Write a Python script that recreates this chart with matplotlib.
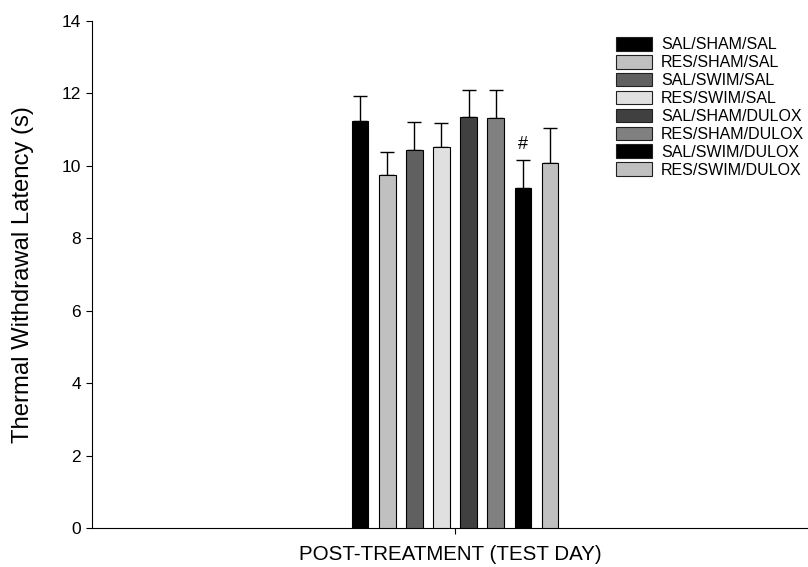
import numpy as np
import matplotlib.pyplot as plt
from matplotlib.patches import Patch

plt.rcParams['font.family'] = ['Liberation Sans', 'DejaVu Sans']

groups = ['SAL/SHAM/SAL', 'RES/SHAM/SAL', 'SAL/SWIM/SAL', 'RES/SWIM/SAL',
          'SAL/SHAM/DULOX', 'RES/SHAM/DULOX', 'SAL/SWIM/DULOX', 'RES/SWIM/DULOX']
means = [11.24, 9.74, 10.45, 10.52, 11.36, 11.31, 9.38, 10.08]
sems = [0.70, 0.65, 0.75, 0.65, 0.74, 0.78, 0.77, 0.97]
colors = ['#000000', '#c0c0c0', '#606060', '#e0e0e0',
          '#404040', '#808080', '#000000', '#c0c0c0']

fig = plt.figure(figsize=(8.08, 5.67), dpi=100)
ax = fig.add_axes([0.1139, 0.0688, 0.8861, 0.8942])

x = np.arange(len(means)) - 3.5
ax.bar(x, means, width=0.615, color=colors, edgecolor='black', linewidth=0.8, zorder=3)
ax.errorbar(x, means, yerr=[np.zeros(len(sems)), sems], fmt='none', ecolor='black',
            elinewidth=1, capsize=5, capthick=1, zorder=2)

# significance mark over SAL/SWIM/DULOX
ax.text(x[6], means[6] + sems[6] + 0.2, '#', ha='center', va='bottom', fontsize=13)

ax.set_xlim(-13.37, 13.0)
ax.set_ylim(0, 14)
ax.set_yticks(range(0, 15, 2))
ax.set_xticks([0])
ax.set_xticklabels([''])
ax.tick_params(axis='both', direction='out', length=4.5, width=0.8, labelsize=12.5)
ax.spines['top'].set_visible(False)
ax.spines['right'].set_visible(False)
ax.set_xlabel('POST-TREATMENT (TEST DAY)', fontsize=14.8, labelpad=4)
ax.set_ylabel('Thermal Withdrawal Latency (s)', fontsize=17.2, labelpad=20)

handles = [Patch(facecolor=c, edgecolor='#202020', linewidth=0.8) for c in colors]
fig.legend(handles, groups, loc='upper left', bbox_to_anchor=(0.762, 0.935),
           frameon=False, fontsize=11.5, handlelength=2.3, handleheight=0.95,
           labelspacing=0.16, handletextpad=0.55, borderaxespad=0, borderpad=0)

fig.savefig('out.png', dpi=100)
